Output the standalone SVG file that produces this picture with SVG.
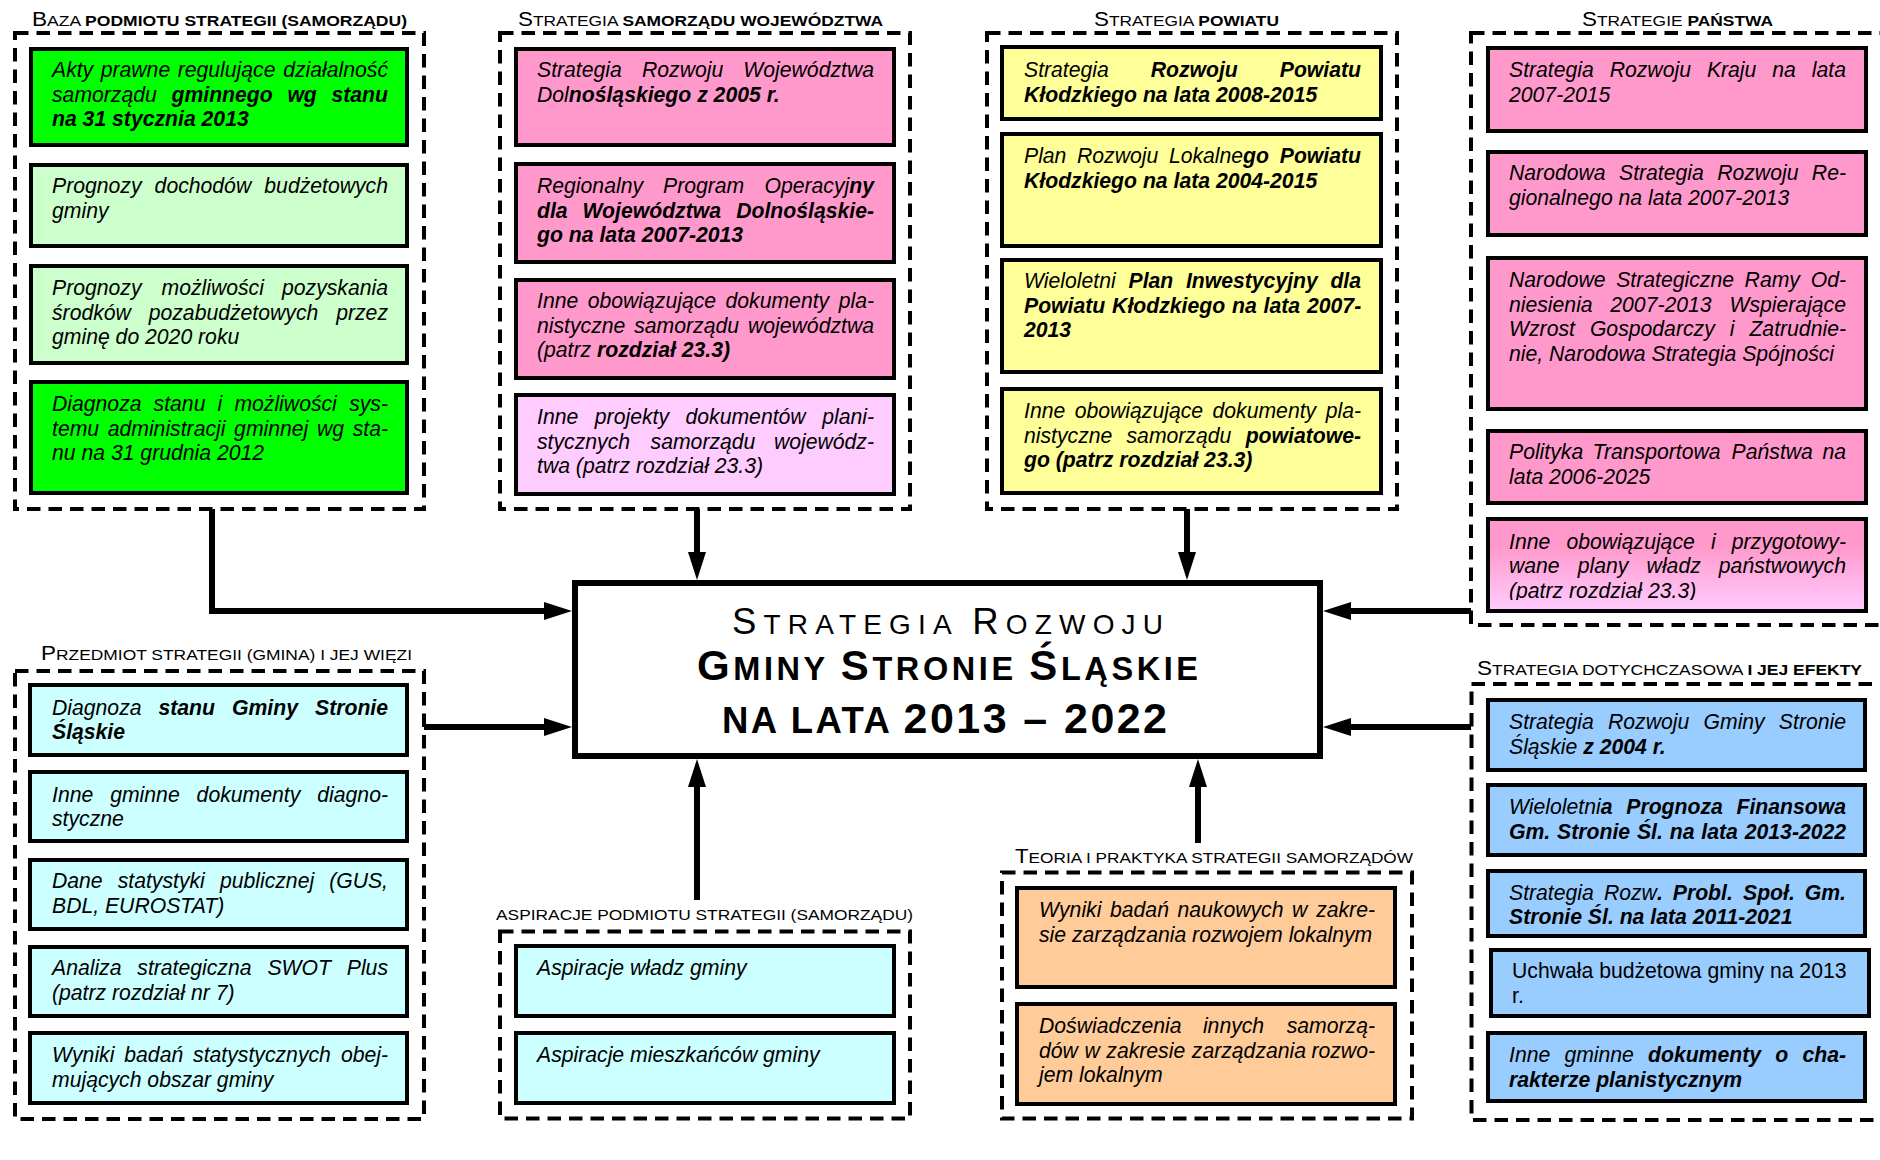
<svg xmlns="http://www.w3.org/2000/svg" width="1880" height="1160" viewBox="0 0 1880 1160">
<style>
.dash{fill:none;stroke:#000;stroke-width:4;stroke-dasharray:13.5 8}
.box{stroke:#000;stroke-width:4}
.t{font-family:"Liberation Sans",Arial,sans-serif;font-size:21.2px;font-style:italic;fill:#000}
.n{font-style:normal}
.b{font-weight:bold}
.ttl{font-family:"Liberation Sans",Arial,sans-serif;font-size:15.5px;fill:#000}
.big{font-size:20px}
.ct{font-family:"Liberation Sans",Arial,sans-serif;fill:#000}
.conn{fill:none;stroke:#000;stroke-width:6;marker-end:url(#ah)}
.gr{fill:#00ff00}.lg{fill:#ccffcc}.pk{fill:#ff99cc}.lp{fill:#ffccff}.ye{fill:#ffff99}.cy{fill:#ccffff}.or{fill:#ffcc99}.bl{fill:#99ccff}
</style>
<defs>
<marker id="ah" markerUnits="userSpaceOnUse" markerWidth="28" markerHeight="18" refX="0" refY="9" orient="auto"><path d="M0,0 L28,9 L0,18 z" fill="#000"/></marker>
<linearGradient id="gp" x1="0" y1="0" x2="0" y2="1"><stop offset="0.3" stop-color="#ff99cc"/><stop offset="1" stop-color="#ffccff"/></linearGradient>
<clipPath id="clip5"><rect x="1486" y="517" width="382" height="83"/></clipPath>
</defs>
<rect width="1880" height="1160" fill="#fff"/>

<g id="connectors">
<path class="conn" d="M212,509 V611 H544"/>
<path class="conn" d="M697,509 V552"/>
<path class="conn" d="M1187,509 V552"/>
<path class="conn" d="M1471,611 H1351"/>
<path class="conn" d="M424,727 H544"/>
<path class="conn" d="M1471,727 H1351"/>
<path class="conn" d="M697,900 V787"/>
<path class="conn" d="M1198,843 V787"/>
</g>

<g id="center">
<rect x="575" y="583" width="745" height="173" fill="#fff" stroke="#000" stroke-width="6"/>
<text class="ct" x="732" y="634" font-size="28" textLength="431" lengthAdjust="spacing"><tspan font-size="36.5">S</tspan>TRATEGIA <tspan font-size="36.5">R</tspan>OZWOJU</text>
<text class="ct b" x="697" y="680" font-size="32.5" textLength="501" lengthAdjust="spacing"><tspan font-size="42">G</tspan>MINY <tspan font-size="42">S</tspan>TRONIE <tspan font-size="42">Ś</tspan>LĄSKIE</text>
<text class="ct b" x="722" y="733" font-size="36.5" textLength="445" lengthAdjust="spacing">NA LATA <tspan font-size="43">2013 – 2022</tspan></text>
</g>

<g id="g-baza">
<text class="ttl" x="32" y="26" textLength="375" lengthAdjust="spacingAndGlyphs"><tspan class="big">B</tspan>AZA <tspan class="b">PODMIOTU STRATEGII (SAMORZĄDU)</tspan></text>
<rect class="dash" x="15" y="33" width="409" height="476"/>
<g id="n-akty"><rect class="box gr" x="31" y="49" width="376" height="96"/>
<text class="t" y="77"><tspan x="52">Akty </tspan><tspan x="100.7">prawne </tspan><tspan x="177.7">regulujące </tspan><tspan x="388" text-anchor="end">działalność</tspan></text>
<text class="t" y="101.5"><tspan x="52">samorządu </tspan><tspan x="171.5" class="b">gminnego </tspan><tspan x="287.4" class="b">wg </tspan><tspan x="388" text-anchor="end" class="b">stanu</tspan></text>
<text class="t b" x="52" y="126">na 31 stycznia 2013</text></g>
<g id="n-prognozy-doch"><rect class="box lg" x="31" y="165" width="376" height="81"/>
<text class="t" y="193"><tspan x="52">Prognozy </tspan><tspan x="154.6">dochodów </tspan><tspan x="388" text-anchor="end">budżetowych</tspan></text>
<text class="t" x="52" y="217.5">gminy</text></g>
<g id="n-prognozy-srod"><rect class="box lg" x="31" y="266" width="376" height="97"/>
<text class="t" y="295"><tspan x="52">Prognozy </tspan><tspan x="161.5">możliwości </tspan><tspan x="388" text-anchor="end">pozyskania</tspan></text>
<text class="t" y="319.5"><tspan x="52">środków </tspan><tspan x="148.7">pozabudżetowych </tspan><tspan x="388" text-anchor="end">przez</tspan></text>
<text class="t" x="52" y="344">gminę do 2020 roku</text></g>
<g id="n-diagnoza-adm"><rect class="box gr" x="31" y="382" width="376" height="111"/>
<text class="t" y="411"><tspan x="52">Diagnoza </tspan><tspan x="153.6">stanu </tspan><tspan x="217.6">i </tspan><tspan x="234.4">możliwości </tspan><tspan x="388" text-anchor="end">sys-</tspan></text>
<text class="t" y="435.5"><tspan x="52">temu </tspan><tspan x="107.7">administracji </tspan><tspan x="234.1">gminnej </tspan><tspan x="316.9">wg </tspan><tspan x="388" text-anchor="end">sta-</tspan></text>
<text class="t" x="52" y="460">nu na 31 grudnia 2012</text></g>
</g>

<g id="g-wojewodztwo">
<text class="ttl" x="518" y="26" textLength="365" lengthAdjust="spacingAndGlyphs"><tspan class="big">S</tspan>TRATEGIA <tspan class="b">SAMORZĄDU WOJEWÓDZTWA</tspan></text>
<rect class="dash" x="500" y="33" width="410" height="476"/>
<g id="n-srwd"><rect class="box pk" x="516" y="49" width="378" height="96"/>
<text class="t" y="77"><tspan x="537">Strategia </tspan><tspan x="642">Rozwoju </tspan><tspan x="874" text-anchor="end">Województwa</tspan></text>
<text class="t" x="537" y="101.5">Dol<tspan class="b">nośląskiego z 2005 r.</tspan></text></g>
<g id="n-rpo"><rect class="box pk" x="516" y="164" width="378" height="98"/>
<text class="t" y="193"><tspan x="537">Regionalny </tspan><tspan x="663">Program </tspan><tspan x="874" text-anchor="end">Operacyj<tspan class="b">ny</tspan></tspan></text>
<text class="t b" y="217.5"><tspan x="537">dla </tspan><tspan x="582.5">Województwa </tspan><tspan x="874" text-anchor="end">Dolnośląskie-</tspan></text>
<text class="t b" x="537" y="242">go na lata 2007-2013</text></g>
<g id="n-inne-woj"><rect class="box pk" x="516" y="280" width="378" height="98"/>
<text class="t" y="308"><tspan x="537">Inne </tspan><tspan x="587.7">obowiązujące </tspan><tspan x="725.5">dokumenty </tspan><tspan x="874" text-anchor="end">pla-</tspan></text>
<text class="t" y="332.5"><tspan x="537">nistyczne </tspan><tspan x="634.2">samorządu </tspan><tspan x="874" text-anchor="end">województwa</tspan></text>
<text class="t" x="537" y="357">(patrz <tspan class="b">rozdział 23.3)</tspan></text></g>
<g id="n-projekty-woj"><rect class="box lp" x="516" y="395" width="378" height="99"/>
<text class="t" y="424"><tspan x="537">Inne </tspan><tspan x="594.8">projekty </tspan><tspan x="685.5">dokumentów </tspan><tspan x="874" text-anchor="end">plani-</tspan></text>
<text class="t" y="448.5"><tspan x="537">stycznych </tspan><tspan x="650.6">samorządu </tspan><tspan x="874" text-anchor="end">wojewódz-</tspan></text>
<text class="t" x="537" y="473">twa (patrz rozdział 23.3)</text></g>
</g>

<g id="g-powiat">
<text class="ttl" x="1094" y="26" textLength="185" lengthAdjust="spacingAndGlyphs"><tspan class="big">S</tspan>TRATEGIA <tspan class="b">POWIATU</tspan></text>
<rect class="dash" x="987" y="33" width="410" height="476"/>
<g id="n-srpk"><rect class="box ye" x="1002" y="47" width="379" height="72"/>
<text class="t" y="77"><tspan x="1024">Strategia </tspan><tspan x="1150.7" class="b">Rozwoju </tspan><tspan x="1361" text-anchor="end" class="b">Powiatu</tspan></text>
<text class="t b" x="1024" y="101.5">Kłodzkiego na lata 2008-2015</text></g>
<g id="n-prl"><rect class="box ye" x="1002" y="134" width="379" height="112"/>
<text class="t" y="163"><tspan x="1024">Plan </tspan><tspan x="1077">Rozwoju </tspan><tspan x="1168.9">Lokalne<tspan class="b">go </tspan></tspan><tspan x="1361" text-anchor="end" class="b">Powiatu</tspan></text>
<text class="t b" x="1024" y="187.5">Kłodzkiego na lata 2004-2015</text></g>
<g id="n-wpi"><rect class="box ye" x="1002" y="260" width="379" height="112"/>
<text class="t" y="288"><tspan x="1024">Wieloletni </tspan><tspan x="1128.5" class="b">Plan </tspan><tspan x="1185.9" class="b">Inwestycyjny </tspan><tspan x="1361" text-anchor="end" class="b">dla</tspan></text>
<text class="t b" x="1024" y="312.5" word-spacing="1">Powiatu Kłodzkiego na lata 2007-</text>
<text class="t b" x="1024" y="337">2013</text></g>
<g id="n-inne-pow"><rect class="box ye" x="1002" y="389" width="379" height="104"/>
<text class="t" y="418"><tspan x="1024">Inne </tspan><tspan x="1074.7">obowiązujące </tspan><tspan x="1212.5">dokumenty </tspan><tspan x="1361" text-anchor="end">pla-</tspan></text>
<text class="t" y="442.5"><tspan x="1024">nistyczne </tspan><tspan x="1126.5">samorządu </tspan><tspan x="1361" text-anchor="end" class="b">powiatowe-</tspan></text>
<text class="t b" x="1024" y="467">go (patrz rozdział 23.3)</text></g>
</g>

<g id="g-panstwo">
<text class="ttl" x="1582" y="26" textLength="191" lengthAdjust="spacingAndGlyphs"><tspan class="big">S</tspan>TRATEGIE <tspan class="b">PAŃSTWA</tspan></text>
<rect class="dash" x="1471" y="33" width="413" height="592"/>
<g id="n-srk"><rect class="box pk" x="1488" y="48" width="378" height="83"/>
<text class="t" y="77"><tspan x="1509">Strategia </tspan><tspan x="1609.7">Rozwoju </tspan><tspan x="1706.9">Kraju </tspan><tspan x="1772.3">na </tspan><tspan x="1846" text-anchor="end">lata</tspan></text>
<text class="t" x="1509" y="101.5">2007-2015</text></g>
<g id="n-nsrr"><rect class="box pk" x="1488" y="152" width="378" height="83"/>
<text class="t" y="180"><tspan x="1509">Narodowa </tspan><tspan x="1619">Strategia </tspan><tspan x="1717.2">Rozwoju </tspan><tspan x="1846" text-anchor="end">Re-</tspan></text>
<text class="t" x="1509" y="204.5">gionalnego na lata 2007-2013</text></g>
<g id="n-nsro"><rect class="box pk" x="1488" y="258" width="378" height="151"/>
<text class="t" y="287"><tspan x="1509">Narodowe </tspan><tspan x="1616.2">Strategiczne </tspan><tspan x="1744.6">Ramy </tspan><tspan x="1846" text-anchor="end">Od-</tspan></text>
<text class="t" y="311.5"><tspan x="1509">niesienia </tspan><tspan x="1610.3">2007-2013 </tspan><tspan x="1846" text-anchor="end">Wspierające</tspan></text>
<text class="t" y="336"><tspan x="1509">Wzrost </tspan><tspan x="1589.9">Gospodarczy </tspan><tspan x="1729.7">i </tspan><tspan x="1846" text-anchor="end">Zatrudnie-</tspan></text>
<text class="t" x="1509" y="360.5">nie, Narodowa Strategia Spójności</text></g>
<g id="n-ptp"><rect class="box pk" x="1488" y="431" width="378" height="72"/>
<text class="t" y="459"><tspan x="1509">Polityka </tspan><tspan x="1592.6">Transportowa </tspan><tspan x="1731.6">Państwa </tspan><tspan x="1846" text-anchor="end">na</tspan></text>
<text class="t" x="1509" y="483.5">lata 2006-2025</text></g>
<g id="n-inne-panstwo"><rect class="box" fill="url(#gp)" x="1488" y="519" width="378" height="92"/>
<g clip-path="url(#clip5)">
<text class="t" y="548.5"><tspan x="1509">Inne </tspan><tspan x="1566.4">obowiązujące </tspan><tspan x="1710.9">i </tspan><tspan x="1846" text-anchor="end">przygotowy-</tspan></text>
<text class="t" y="573"><tspan x="1509">wane </tspan><tspan x="1577.8">plany </tspan><tspan x="1646.6">władz </tspan><tspan x="1846" text-anchor="end">państwowych</tspan></text>
<text class="t" x="1509" y="597.5">(patrz rozdział 23.3)</text>
</g></g>
</g>

<g id="g-przedmiot">
<text class="ttl" x="41" y="660" textLength="371" lengthAdjust="spacingAndGlyphs"><tspan class="big">P</tspan>RZEDMIOT STRATEGII (GMINA) I JEJ WIĘZI</text>
<rect class="dash" x="15" y="671" width="409" height="448"/>
<g id="n-diagnoza-gminy"><rect class="box cy" x="30" y="685" width="377" height="70"/>
<text class="t" y="715"><tspan x="52">Diagnoza </tspan><tspan x="158.5" class="b">stanu </tspan><tspan x="232" class="b">Gminy </tspan><tspan x="388" text-anchor="end" class="b">Stronie</tspan></text>
<text class="t b" x="52" y="739">Śląskie</text></g>
<g id="n-inne-diag"><rect class="box cy" x="30" y="772" width="377" height="69"/>
<text class="t" y="802"><tspan x="52">Inne </tspan><tspan x="110.2">gminne </tspan><tspan x="196.6">dokumenty </tspan><tspan x="388" text-anchor="end">diagno-</tspan></text>
<text class="t" x="52" y="826">styczne</text></g>
<g id="n-dane"><rect class="box cy" x="30" y="860" width="377" height="69"/>
<text class="t" y="888"><tspan x="52">Dane </tspan><tspan x="117.7">statystyki </tspan><tspan x="219.9">publicznej </tspan><tspan x="388" text-anchor="end">(GUS,</tspan></text>
<text class="t" x="52" y="912.5">BDL, EUROSTAT)</text></g>
<g id="n-swot"><rect class="box cy" x="30" y="947" width="377" height="69"/>
<text class="t" y="975"><tspan x="52">Analiza </tspan><tspan x="137.3">strategiczna </tspan><tspan x="267.4">SWOT </tspan><tspan x="388" text-anchor="end">Plus</tspan></text>
<text class="t" x="52" y="999.5">(patrz rozdział nr 7)</text></g>
<g id="n-wyniki-stat"><rect class="box cy" x="30" y="1033" width="377" height="70"/>
<text class="t" y="1062"><tspan x="52">Wyniki </tspan><tspan x="124.3">badań </tspan><tspan x="193.1">statystycznych </tspan><tspan x="388" text-anchor="end">obej-</tspan></text>
<text class="t" x="52" y="1086.5">mujących obszar gminy</text></g>
</g>

<g id="g-aspiracje">
<text class="ttl" x="496" y="920" textLength="417" lengthAdjust="spacingAndGlyphs">ASPIRACJE PODMIOTU STRATEGII (SAMORZĄDU)</text>
<rect class="dash" x="500" y="931.5" width="410" height="187"/>
<g id="n-asp-wladz"><rect class="box cy" x="516" y="946" width="378" height="70"/>
<text class="t" x="537" y="975">Aspiracje władz gminy</text></g>
<g id="n-asp-miesz"><rect class="box cy" x="516" y="1033" width="378" height="70"/>
<text class="t" x="537" y="1062">Aspiracje mieszkańców gminy</text></g>
</g>

<g id="g-teoria">
<text class="ttl" x="1015" y="863" textLength="398" lengthAdjust="spacingAndGlyphs"><tspan class="big">T</tspan>EORIA I PRAKTYKA STRATEGII SAMORZĄDÓW</text>
<rect class="dash" x="1002" y="872.5" width="410" height="246"/>
<g id="n-wyniki-nauk"><rect class="box or" x="1017" y="888" width="378" height="99"/>
<text class="t" y="917"><tspan x="1039">Wyniki </tspan><tspan x="1110">badań </tspan><tspan x="1177.5">naukowych </tspan><tspan x="1292">w </tspan><tspan x="1375" text-anchor="end">zakre-</tspan></text>
<text class="t" x="1039" y="941.5">sie zarządzania rozwojem lokalnym</text></g>
<g id="n-doswiadczenia"><rect class="box or" x="1017" y="1004" width="378" height="100"/>
<text class="t" y="1033"><tspan x="1039">Doświadczenia </tspan><tspan x="1202.9">innych </tspan><tspan x="1375" text-anchor="end">samorzą-</tspan></text>
<text class="t" y="1057.5"><tspan x="1039">dów </tspan><tspan x="1084.5">w </tspan><tspan x="1106.3">zakresie </tspan><tspan x="1191.8">zarządzania </tspan><tspan x="1375" text-anchor="end">rozwo-</tspan></text>
<text class="t" x="1039" y="1082">jem lokalnym</text></g>
</g>

<g id="g-dotychczasowa">
<text class="ttl" x="1477" y="675" textLength="385" lengthAdjust="spacingAndGlyphs"><tspan class="big">S</tspan>TRATEGIA DOTYCHCZASOWA <tspan class="b">I JEJ EFEKTY</tspan></text>
<rect class="dash" x="1471.5" y="684" width="413" height="436"/>
<g id="n-srg2004"><rect class="box bl" x="1488" y="700" width="377" height="70"/>
<text class="t" y="729"><tspan x="1509">Strategia </tspan><tspan x="1608">Rozwoju </tspan><tspan x="1703.5">Gminy </tspan><tspan x="1846" text-anchor="end">Stronie</tspan></text>
<text class="t" x="1509" y="753.5">Śląskie <tspan class="b">z 2004 r.</tspan></text></g>
<g id="n-wpf"><rect class="box bl" x="1488" y="785" width="377" height="70"/>
<text class="t" y="814"><tspan x="1509">Wieloletni<tspan class="b">a </tspan></tspan><tspan x="1626.3" class="b">Prognoza </tspan><tspan x="1846" text-anchor="end" class="b">Finansowa</tspan></text>
<text class="t b" x="1509" y="838.5" word-spacing="1">Gm. Stronie Śl. na lata 2013-2022</text></g>
<g id="n-srps"><rect class="box bl" x="1488" y="871" width="377" height="65"/>
<text class="t" y="900"><tspan x="1509">Strategia </tspan><tspan x="1603.9">Rozw<tspan class="b">. </tspan></tspan><tspan x="1672.8" class="b">Probl. </tspan><tspan x="1743" class="b">Społ. </tspan><tspan x="1846" text-anchor="end" class="b">Gm.</tspan></text>
<text class="t b" x="1509" y="923.5">Stronie Śl. na lata 2011-2021</text></g>
<g id="n-uchwala"><rect class="box bl" x="1491" y="950" width="378" height="66"/>
<text class="t n" x="1512" y="978">Uchwała budżetowa gminy na 2013</text>
<text class="t n" x="1512" y="1002.5">r.</text></g>
<g id="n-inne-plan"><rect class="box bl" x="1488" y="1033" width="377" height="68"/>
<text class="t" y="1062"><tspan x="1509">Inne </tspan><tspan x="1564.4">gminne </tspan><tspan x="1648" class="b">dokumenty </tspan><tspan x="1775.2" class="b">o </tspan><tspan x="1846" text-anchor="end" class="b">cha-</tspan></text>
<text class="t b" x="1509" y="1086.5">rakterze planistycznym</text></g>
</g>
</svg>
